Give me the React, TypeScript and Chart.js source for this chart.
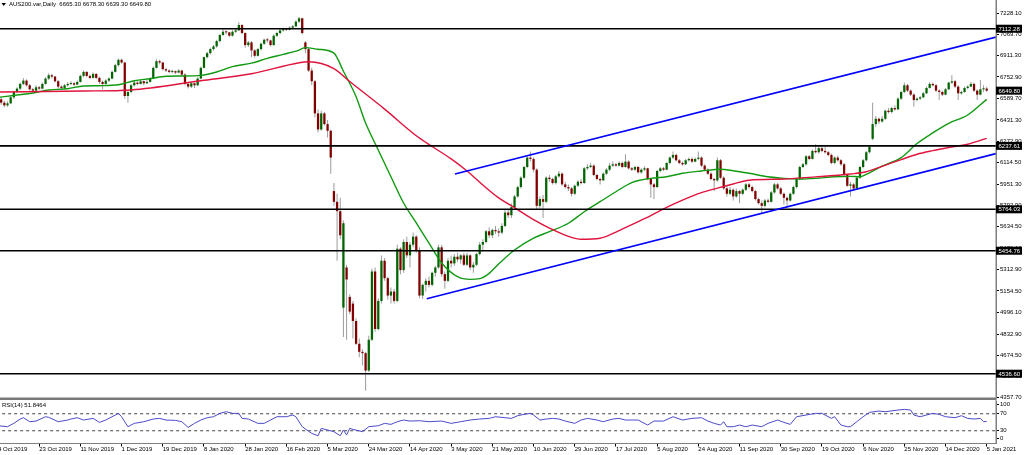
import React, { useEffect, useRef } from "react";
import { Chart, registerables } from "chart.js";

Chart.register(...registerables);

// ---------------- data ----------------
const symbolTitle = "AUS200.var,Daily";

const dateLabels = [
  "4 Oct 2019", "23 Oct 2019", "11 Nov 2019", "1 Dec 2019", "19 Dec 2019", "8 Jan 2020",
  "28 Jan 2020", "16 Feb 2020", "5 Mar 2020", "24 Mar 2020", "14 Apr 2020", "3 May 2020",
  "21 May 2020", "10 Jun 2020", "29 Jun 2020", "17 Jul 2020", "5 Aug 2020", "24 Aug 2020",
  "11 Sep 2020", "30 Sep 2020", "19 Oct 2020", "6 Nov 2020", "25 Nov 2020", "14 Dec 2020",
  "5 Jan 2021",
];
const barsPerDateLabel = 13;

const priceTicks = [
  7228.1, 7069.7, 6911.3, 6752.9, 6589.7, 6431.3, 6272.9, 6114.5, 5951.3, 5792.9,
  5634.5, 5476.1, 5312.9, 5154.5, 4996.1, 4832.9, 4674.5, 4516.1, 4357.7,
];
const levelLines = [7112.28, 6237.61, 5764.03, 5454.76, 4536.6];

const rsiLevels = [70, 30];
const rsiTickValues = [92.1, 70, 30, 12.1];
const rsiTickLabels = ["100", "70", "30", "0"];

const opens = [
  6600,6585,6560,6540,6555,6600,6640,6665,6700,6725,
  6690,6660,6650,6675,6665,6700,6740,6765,6755,6720,
  6680,6670,6690,6700,6705,6695,6715,6760,6790,6760,
  6745,6775,6745,6715,6700,6725,6740,6790,6840,6880,
  6860,6610,6640,6690,6710,6700,6720,6705,6715,6740,
  6820,6870,6860,6810,6800,6790,6795,6785,6800,6770,
  6700,6680,6705,6690,6740,6820,6900,6930,6960,6980,
  7020,7065,7090,7085,7060,7090,7100,7140,7080,6990,
  7010,6950,6910,6960,7000,7030,7025,6990,7060,7080,
  7100,7110,7105,7120,7130,7165,7190,7010,6960,6800,
  6720,6480,6360,6480,6400,6350,5900,5820,5750,5030,
  5330,5110,5060,4930,4760,4700,4690,4560,4790,5300,
  4870,5080,5380,5250,5120,5150,5080,5470,5310,5520,
  5420,5500,5560,5460,5120,5200,5230,5200,5290,5330,
  5480,5280,5230,5380,5360,5410,5390,5420,5350,5420,
  5330,5350,5430,5500,5520,5600,5570,5610,5600,5590,
  5640,5740,5720,5780,5860,5930,6000,6080,6150,6140,
  6060,5790,5840,5820,6000,5990,5960,6010,6030,5950,
  5930,5920,5880,5940,5970,5960,6070,6080,6090,6020,
  5990,5980,6030,6060,6090,6100,6090,6110,6080,6120,
  6070,6060,6080,6040,6060,6070,5990,5950,5930,6050,
  6070,6060,6110,6150,6170,6130,6110,6100,6130,6140,
  6120,6140,6150,6090,6060,6030,5990,5980,6130,6000,
  5920,5880,5910,5860,5900,5880,5910,5950,5930,5900,
  5840,5810,5790,5830,5820,5890,5950,5920,5880,5850,
  5830,5880,5930,5990,6080,6100,6160,6140,6200,6190,
  6220,6200,6190,6170,6110,6150,6130,6100,6020,5940,
  5950,5920,6000,6080,6130,6190,6290,6400,6440,6420,
  6440,6500,6490,6520,6510,6590,6640,6690,6650,6620,
  6580,6590,6600,6630,6670,6700,6690,6650,6640,6620,
  6660,6710,6720,6680,6630,6640,6670,6680,6700,6650,
  6620,6660,6665.3,
];
const highs = [
  6615,6600,6575,6570,6610,6650,6675,6710,6745,6735,
  6700,6670,6690,6685,6710,6750,6780,6775,6760,6730,
  6690,6700,6715,6720,6715,6725,6770,6800,6795,6770,
  6785,6780,6755,6725,6735,6750,6800,6850,6890,6890,
  6865,6650,6700,6720,6720,6730,6725,6730,6750,6830,
  6885,6880,6865,6820,6810,6805,6800,6810,6805,6780,
  6710,6715,6710,6750,6830,6905,6940,6970,6990,7030,
  7075,7110,7100,7090,7100,7110,7160,7145,7085,7020,
  7020,6960,6970,7010,7040,7045,7030,7070,7090,7110,
  7120,7120,7130,7140,7175,7200,7195,7020,6970,6820,
  6730,6510,6500,6490,6430,6360,5960,5880,5850,5680,
  5350,5130,5080,4950,4800,4720,4700,4820,5320,5330,
  5100,5420,5400,5260,5180,5170,5500,5480,5540,5560,
  5520,5590,5570,5480,5210,5250,5260,5300,5340,5500,
  5500,5300,5400,5420,5430,5440,5430,5440,5440,5430,
  5370,5440,5520,5540,5610,5630,5620,5640,5620,5660,
  5760,5760,5810,5870,5940,6010,6090,6160,6195,6150,
  6070,5860,5870,6010,6020,6000,6020,6050,6040,5970,
  5950,5930,5950,5980,5990,6080,6100,6110,6100,6030,
  6000,6040,6070,6110,6120,6110,6120,6120,6175,6130,
  6080,6090,6090,6070,6085,6075,6000,5960,6060,6080,
  6080,6115,6160,6195,6180,6140,6120,6140,6150,6150,
  6150,6195,6160,6100,6070,6040,6000,6150,6140,6010,
  5940,5930,5920,5920,5910,5920,5960,5960,5940,5910,
  5850,5830,5840,5845,5900,5960,5960,5930,5890,5860,
  5890,5940,6000,6090,6110,6170,6170,6210,6250,6235,
  6235,6230,6200,6180,6160,6165,6140,6110,6030,5970,
  5960,6010,6090,6140,6200,6240,6560,6460,6450,6460,
  6510,6520,6530,6540,6600,6650,6710,6700,6660,6630,
  6600,6610,6640,6680,6715,6710,6700,6660,6650,6670,
  6715,6765,6730,6690,6650,6680,6690,6715,6710,6660,
  6730,6690,6678.3,
];
const lows = [
  6570,6545,6525,6530,6550,6590,6630,6655,6690,6680,
  6650,6635,6640,6655,6660,6695,6730,6740,6710,6665,
  6655,6660,6680,6690,6680,6690,6710,6750,6750,6735,
  6740,6735,6700,6660,6695,6715,6735,6785,6830,6850,
  6590,6560,6630,6680,6690,6695,6690,6700,6710,6735,
  6815,6845,6800,6790,6780,6780,6775,6780,6760,6690,
  6665,6670,6670,6685,6735,6815,6890,6920,6950,6970,
  7010,7060,7070,7050,7055,7080,7095,7070,6970,6975,
  6900,6895,6905,6950,6990,7010,6980,6985,7050,7070,
  7090,7095,7100,7110,7125,7155,7070,6930,6790,6690,
  6450,6340,6350,6390,6300,6030,5790,5380,5540,4810,
  4790,4980,4800,4750,4660,4600,4410,4550,4780,4850,
  4860,5060,5230,5090,5060,5060,5070,5280,5290,5400,
  5330,5480,5440,5100,5095,5150,5180,5190,5260,5320,
  5260,5170,5220,5330,5340,5370,5360,5340,5340,5310,
  5290,5340,5420,5460,5510,5550,5550,5580,5560,5580,
  5630,5700,5700,5770,5850,5920,5990,6070,6120,6040,
  5760,5770,5700,5810,5970,5950,5950,6000,5940,5920,
  5900,5860,5870,5930,5950,5955,6060,6070,6010,5980,
  5950,5975,6020,6050,6080,6080,6085,6070,6075,6060,
  6050,6050,6030,6030,6050,5980,5850,5840,5925,6040,
  6050,6055,6100,6140,6120,6100,6090,6095,6120,6110,
  6115,6130,6080,6050,6020,5980,5900,5970,5990,5910,
  5860,5870,5830,5850,5810,5870,5900,5920,5890,5830,
  5800,5730,5780,5810,5815,5880,5910,5870,5800,5780,
  5820,5870,5920,5980,6070,6090,6130,6135,6180,6180,
  6190,6180,6160,6100,6100,6120,6090,6010,5930,5860,
  5900,5910,5990,6070,6120,6180,6280,6380,6400,6410,
  6430,6480,6480,6500,6505,6580,6630,6640,6610,6530,
  6570,6580,6595,6625,6665,6680,6640,6580,6610,6615,
  6655,6700,6670,6580,6620,6635,6660,6675,6640,6580,
  6615,6640,6639.3,
];
const closes = [
  6585,6560,6540,6555,6600,6640,6665,6700,6725,6690,
  6660,6650,6675,6665,6700,6740,6765,6755,6720,6680,
  6670,6690,6700,6705,6695,6715,6760,6790,6760,6745,
  6775,6745,6715,6700,6725,6740,6790,6840,6880,6860,
  6610,6640,6690,6710,6700,6720,6705,6715,6740,6820,
  6870,6860,6810,6800,6790,6795,6785,6800,6770,6700,
  6680,6705,6690,6740,6820,6900,6930,6960,6980,7020,
  7065,7090,7085,7060,7090,7100,7140,7080,6990,7010,
  6950,6910,6960,7000,7030,7025,6990,7060,7080,7100,
  7110,7105,7120,7130,7165,7190,7080,6960,6800,6720,
  6480,6360,6480,6400,6350,6150,5820,5750,5570,5660,
  5240,5000,4930,4760,4700,4690,4560,4790,5300,4870,
  5080,5380,5250,5120,5150,5080,5470,5310,5520,5420,
  5500,5560,5460,5120,5200,5230,5200,5290,5330,5480,
  5280,5230,5380,5360,5410,5390,5420,5350,5420,5330,
  5350,5430,5500,5520,5600,5570,5610,5600,5590,5640,
  5740,5720,5780,5860,5930,6000,6080,6150,6140,6060,
  5790,5840,5820,6000,5990,5960,6010,6030,5950,5930,
  5920,5880,5940,5970,5960,6070,6080,6090,6020,5990,
  5980,6030,6060,6090,6100,6090,6110,6080,6120,6070,
  6060,6080,6040,6060,6070,5990,5950,5930,6050,6070,
  6060,6110,6150,6170,6130,6110,6100,6130,6140,6120,
  6140,6150,6090,6060,6030,5990,5980,6130,6000,5920,
  5880,5910,5860,5900,5880,5910,5950,5930,5900,5840,
  5810,5790,5830,5820,5890,5950,5920,5880,5850,5830,
  5880,5930,5990,6080,6100,6160,6140,6200,6190,6220,
  6200,6190,6170,6110,6150,6130,6100,6020,5940,5950,
  5920,6000,6080,6130,6190,6230,6400,6440,6420,6440,
  6500,6490,6520,6510,6590,6640,6690,6650,6620,6580,
  6590,6600,6630,6670,6700,6690,6650,6640,6620,6660,
  6710,6720,6680,6630,6640,6670,6680,6700,6650,6620,
  6660,6665,6649.8,
];

// moving averages, read at sparse bars
const fastMaBars = [
  0,6,11,16,22,27,32,38,43,48,53,58,64,69,74,80,85,90,95,97,
  101,106,109,113,116,120,124,128,132,136,140,145,149,152,155,158,163,169,174,180,
  185,190,195,200,206,211,216,222,228,232,237,243,248,253,258,264,269,272,274,279,
  285,290,295,300,306,312,
];
const fastMaValues = [
  6600,6617,6632,6655,6664,6685,6687,6694,6724,6739,6757,6759,6764,6789,6829,6855,6891,6921,6953,6971,
  6959,6930,6795,6605,6408,6207,6007,5811,5662,5512,5363,5261,5241,5246,5286,5356,5460,5548,5597,5660,
  5746,5821,5895,5963,5995,6007,6033,6050,6063,6052,6033,6007,5995,5990,5995,6007,6010,6007,6025,6087,
  6150,6255,6335,6406,6468,6585,
];
const slowMaBars = [
  0,27,42,64,80,95,98,106,111,122,132,137,143,148,153,158,164,169,174,180,
  184,190,195,200,206,211,216,222,227,232,237,248,258,269,274,279,285,290,295,300,
  306,312,
];
const slowMaValues = [
  6640,6647,6655,6724,6776,6858,6866,6815,6718,6512,6313,6233,6140,6050,5945,5849,5762,5687,5624,5562,
  5540,5548,5594,5650,5717,5778,5832,5888,5922,5953,5981,5990,6006,6028,6044,6085,6135,6175,6202,6225,
  6250,6294,
];

// trend channel (bar index, price)
const upperChannelBars = [144.2, 314.93];
const upperChannelValues = [6027.6, 7050];
const lowerChannelBars = [135.3, 314.93];
const lowerChannelValues = [5096.5, 6180];

// RSI(14)
const rsiBars = [
  0,3,5,7,8,10,12,15,16,19,22,23,25,27,30,32,34,36,38,39,
  41,43,46,49,51,53,56,58,60,62,64,66,68,70,72,74,76,77,79,82,
  84,86,88,91,93,94,96,99,101,102,104,106,108,109,110,111,112,115,117,120,
  122,124,126,128,130,133,136,140,143,146,149,152,155,157,162,164,166,168,169,171,
  173,175,177,179,182,184,186,189,191,194,196,198,202,205,207,210,213,216,219,222,
  224,226,228,229,230,232,234,236,238,241,243,246,248,250,252,255,258,260,263,264,
  266,268,269,271,273,275,278,280,284,286,288,289,291,293,295,297,299,302,304,306,
  308,310,311,312,
];
const rsiValues = [
  41.8,39.5,47.4,57.6,60.7,51.3,52.8,63.0,61.5,51.3,55.2,57.6,60.7,55.2,59.1,49.7,55.2,63.0,70.9,63.0,
  39.5,47.4,51.3,57.6,59.1,55.2,54.4,51.3,37.9,47.4,55.2,60.7,63.0,70.9,74.8,70.9,70.9,59.1,57.6,47.4,
  47.4,55.2,63.0,63.0,67.0,63.0,39.5,23.8,18.3,35.6,31.7,27.8,18.3,31.7,19.9,35.6,33.2,27.8,39.5,41.8,
  47.4,45.0,51.3,55.2,52.8,53.6,51.3,52.8,47.4,51.3,55.2,57.6,59.1,63.0,59.1,65.4,68.5,70.9,67.0,55.2,
  57.6,59.1,57.6,52.8,47.4,55.2,59.1,55.2,51.3,57.6,59.1,55.2,55.2,43.4,52.8,52.8,63.0,55.2,59.1,60.7,
  52.8,47.4,43.4,51.3,39.5,39.5,43.4,39.5,43.4,39.5,47.4,55.2,49.7,45.0,63.0,67.0,70.9,70.9,59.1,63.0,
  43.4,39.5,39.5,51.3,63.0,73.2,76.4,74.8,78.7,80.3,78.7,67.0,63.0,67.0,70.9,68.5,63.0,60.7,65.4,59.1,
  57.6,59.1,51.3,51.8464,
];

// ---------------- presentation ----------------
const FONT_FAMILY = '"Liberation Sans", Arial, sans-serif';
const X_MIN = 0.631;
const X_MAX = 314.93;
const PRICE_MIN = 4355.2;
const PRICE_MAX = 7326.65;
const UP_COLOR = "#006400";
const DOWN_COLOR = "#800000";
const WICK_COLOR = "#9c9c9c";
const AXIS_GRAY = "#808080";

function pts(xs: number[], ys: number[]) {
  return xs.map((x, i) => ({ x, y: ys[i] }));
}
function hLine(v: number) {
  return [
    { x: X_MIN - 5, y: v },
    { x: X_MAX + 5, y: v },
  ];
}

export default function App() {
  const mainRef = useRef<HTMLCanvasElement>(null);
  const rsiRef = useRef<HTMLCanvasElement>(null);

  useEffect(() => {
    const n = closes.length - 1;
    const idx = closes.map((_, i) => i);
    const wickData = idx.map((i) => ({ x: i, y: [lows[i], highs[i]] }));
    const bodyData = idx.map((i) => ({
      x: i,
      y: [Math.min(opens[i], closes[i]), Math.max(opens[i], closes[i])],
    }));
    const bodyColors = idx.map((i) => (closes[i] >= opens[i] ? UP_COLOR : DOWN_COLOR));

    const smallFont = { family: FONT_FAMILY, size: 6, lineHeight: 1 };

    const mainDecor = {
      id: "mainDecor",
      afterDraw(chart: any) {
        const { ctx } = chart;
        const y = chart.scales.y;
        ctx.save();
        ctx.fillStyle = "#7a7a7a";
        ctx.fillRect(0, 397.5, 996, 2.5);
        ctx.fillStyle = AXIS_GRAY;
        ctx.fillRect(995.5, 0, 1, 444);
        ctx.fillStyle = "#000";
        ctx.font = `6px ${FONT_FAMILY}`;
        ctx.textBaseline = "middle";
        ctx.textAlign = "left";
        ctx.fillText(
          `${symbolTitle}  ${opens[n].toFixed(2)} ${highs[n].toFixed(2)} ${lows[n].toFixed(2)} ${closes[n].toFixed(2)}`,
          9,
          4.5
        );
        ctx.beginPath();
        ctx.moveTo(1.5, 3);
        ctx.lineTo(6, 3);
        ctx.lineTo(3.75, 6);
        ctx.closePath();
        ctx.fill();
        [...levelLines, closes[n]].forEach((v) => {
          const py = y.getPixelForValue(v);
          ctx.fillStyle = "#000";
          ctx.fillRect(996, py - 4, 26, 8);
          ctx.fillStyle = "#fff";
          ctx.fillText(v.toFixed(2), 998.5, py + 0.5);
        });
        ctx.restore();
      },
    };

    const rsiDecor = {
      id: "rsiDecor",
      afterDraw(chart: any) {
        const { ctx } = chart;
        ctx.save();
        ctx.fillStyle = "#000";
        ctx.font = `6px ${FONT_FAMILY}`;
        ctx.textBaseline = "middle";
        ctx.textAlign = "left";
        ctx.fillText(`RSI(14) ${rsiValues[rsiValues.length - 1].toFixed(4)}`, 2, 405.5);
        ctx.restore();
      },
    };

    const lineBase = {
      type: "line" as const,
      pointRadius: 0,
      pointHoverRadius: 0,
      fill: false,
    };

    const main = new Chart(mainRef.current as HTMLCanvasElement, {
      type: "line",
      data: {
        datasets: [
          {
            ...lineBase,
            data: pts(upperChannelBars, upperChannelValues),
            borderColor: "#0000ff",
            borderWidth: 1.6,
            order: 0,
          },
          {
            ...lineBase,
            data: pts(lowerChannelBars, lowerChannelValues),
            borderColor: "#0000ff",
            borderWidth: 1.6,
            order: 0,
          },
          ...levelLines.map((v) => ({
            ...lineBase,
            data: hLine(v),
            borderColor: "#000",
            borderWidth: 1.6,
            order: 1,
          })),
          {
            ...lineBase,
            data: pts(slowMaBars, slowMaValues),
            borderColor: "#e0143c",
            borderWidth: 1.4,
            cubicInterpolationMode: "monotone",
            order: 2,
          },
          {
            ...lineBase,
            data: pts(fastMaBars, fastMaValues),
            borderColor: "#119a11",
            borderWidth: 1.4,
            cubicInterpolationMode: "monotone",
            order: 2,
          },
          {
            type: "bar",
            data: bodyData,
            backgroundColor: bodyColors,
            borderWidth: 0,
            maxBarThickness: 2.5,
            minBarLength: 1,
            inflateAmount: 0,
            grouped: false,
            order: 5,
          } as any,
          {
            type: "bar",
            data: wickData,
            backgroundColor: WICK_COLOR,
            borderWidth: 0,
            maxBarThickness: 1,
            inflateAmount: 0,
            grouped: false,
            order: 6,
          } as any,
        ],
      },
      options: {
        responsive: false,
        animation: false,
        devicePixelRatio: 1,
        events: [],
        layout: { padding: { top: 0, left: 0, right: 0, bottom: 57 } },
        plugins: { legend: { display: false }, tooltip: { enabled: false } },
        scales: {
          x: { type: "linear", display: false, min: X_MIN, max: X_MAX, offset: false },
          y: {
            type: "linear",
            position: "right",
            min: PRICE_MIN,
            max: PRICE_MAX,
            afterBuildTicks: (s: any) => {
              s.ticks = priceTicks.map((v) => ({ value: v }));
            },
            afterFit: (s: any) => {
              s.width = 28;
              s.paddingTop = 0;
              s.paddingBottom = 0;
            },
            ticks: {
              autoSkip: false,
              padding: 1,
              color: "#000",
              font: smallFont,
              callback: (v: any) => Number(v).toFixed(2),
            },
            grid: {
              drawOnChartArea: false,
              drawTicks: true,
              tickLength: 3,
              tickColor: "#000",
              color: "#000",
            },
            border: { display: true, color: AXIS_GRAY },
          },
        },
      } as any,
      plugins: [mainDecor],
    });

    const rsi = new Chart(rsiRef.current as HTMLCanvasElement, {
      type: "line",
      data: {
        datasets: [
          {
            ...lineBase,
            data: pts(rsiBars, rsiValues),
            borderColor: "#4b4bc8",
            borderWidth: 1,
            tension: 0,
            order: 0,
          },
          ...rsiLevels.map((v) => ({
            ...lineBase,
            data: hLine(v),
            borderColor: "#444",
            borderWidth: 1,
            borderDash: [3, 3],
            order: 1,
          })),
        ],
      },
      options: {
        responsive: false,
        animation: false,
        devicePixelRatio: 1,
        events: [],
        layout: { padding: { top: 401, left: 0, right: 0, bottom: 0 } },
        plugins: { legend: { display: false }, tooltip: { enabled: false } },
        scales: {
          x: {
            type: "linear",
            position: "bottom",
            min: X_MIN,
            max: X_MAX,
            offset: false,
            afterBuildTicks: (s: any) => {
              s.ticks = dateLabels.map((_, k) => ({ value: k * barsPerDateLabel }));
            },
            afterFit: (s: any) => {
              s.height = 11.5;
              s.paddingLeft = 0;
              s.paddingRight = 0;
            },
            ticks: {
              autoSkip: false,
              maxRotation: 0,
              minRotation: 0,
              align: "start",
              padding: 0,
              color: "#000",
              font: smallFont,
              callback: (v: any) => dateLabels[Math.round(Number(v) / barsPerDateLabel)],
            },
            grid: {
              drawOnChartArea: false,
              drawTicks: true,
              tickLength: 3,
              tickColor: "#000",
              color: "#000",
            },
            border: { display: true, color: AXIS_GRAY },
          },
          y: {
            type: "linear",
            position: "right",
            min: 0,
            max: 100,
            afterBuildTicks: (s: any) => {
              s.ticks = rsiTickValues.map((v) => ({ value: v }));
            },
            afterFit: (s: any) => {
              s.width = 28;
              s.paddingTop = 0;
              s.paddingBottom = 0;
            },
            ticks: {
              autoSkip: false,
              padding: 1,
              color: "#000",
              font: smallFont,
              callback: (_v: any, i: number) => rsiTickLabels[i],
            },
            grid: {
              drawOnChartArea: false,
              drawTicks: true,
              tickLength: 3,
              tickColor: "#000",
              color: "#000",
            },
            border: { display: true, color: AXIS_GRAY },
          },
        },
      } as any,
      plugins: [rsiDecor],
    });

    return () => {
      main.destroy();
      rsi.destroy();
    };
  }, []);

  return (
    <div
      style={{
        position: "fixed",
        left: 0,
        top: 0,
        width: 1024,
        height: 455,
        background: "#fff",
        overflow: "hidden",
      }}
    >
      <canvas ref={mainRef} width={1024} height={455} style={{ position: "absolute", left: 0, top: 0 }} />
      <canvas ref={rsiRef} width={1024} height={455} style={{ position: "absolute", left: 0, top: 0 }} />
    </div>
  );
}
